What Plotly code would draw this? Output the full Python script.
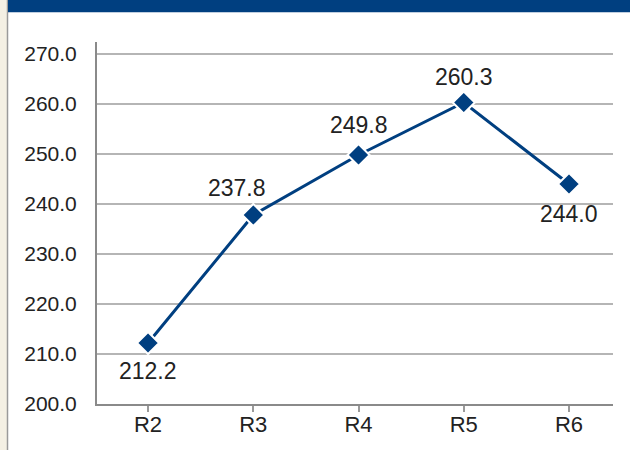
import plotly.graph_objects as go

categories = ["R2", "R3", "R4", "R5", "R6"]
values = [212.2, 237.8, 249.8, 260.3, 244.0]
labels = ["212.2", "237.8", "249.8", "260.3", "244.0"]
y_ticks = [200, 210, 220, 230, 240, 250, 260, 270]
y_tick_labels = ["200.0", "210.0", "220.0", "230.0", "240.0", "250.0", "260.0", "270.0"]

NAVY = "#003f80"
W, H = 630, 450
L, R, T, B = 97, 17, 42, 46
pw, ph = W - L - R, H - T - B

def px(x):
    return (x - L) / pw

def py(y):
    return (H - B - y) / ph

fig = go.Figure()
fig.add_trace(go.Scatter(
    x=categories, y=values, mode="lines+markers",
    line=dict(color=NAVY, width=3),
    marker=dict(symbol="diamond", size=17, color=NAVY, line=dict(color="white", width=2)),
    hoverinfo="skip", showlegend=False,
))

# label placement offsets (style, not data)
xshifts = [0, -16, 0, 0, 0]
yshifts = [-28, 27, 30, 26, -30]
for c, v, t, xs, ys in zip(categories, values, labels, xshifts, yshifts):
    fig.add_annotation(x=c, y=v, text=t, showarrow=False, xshift=xs, yshift=ys,
                       font=dict(family="Liberation Sans, Arial, sans-serif", size=23, color="#222222"))

shapes = [
    dict(type="rect", xref="paper", yref="paper", x0=px(-2), x1=px(7), y0=py(H + 2), y1=py(-2),
         fillcolor="#f4f0e4", line=dict(width=0), layer="below"),
    dict(type="line", xref="paper", yref="paper", x0=px(7.5), x1=px(7.5), y0=py(H + 2), y1=py(-2),
         line=dict(color="#9a9a9a", width=1.5)),
    dict(type="rect", xref="paper", yref="paper", x0=px(8), x1=px(W + 2), y0=py(12.3), y1=py(-2),
         fillcolor=NAVY, line=dict(width=0)),
]

fig.update_layout(
    width=W, height=H,
    margin=dict(l=L, r=R, t=T, b=B, pad=0),
    paper_bgcolor="white", plot_bgcolor="white",
    shapes=shapes,
    xaxis=dict(
        type="category", range=[-0.485, 4.418], automargin=False,
        showline=True, linecolor="#8a8a8a", linewidth=2,
        ticks="outside", ticklen=6, tickcolor="#9a9a9a", tickwidth=1.5,
        showgrid=False, zeroline=False, ticklabelstandoff=-6,
        tickfont=dict(family="Liberation Sans, Arial, sans-serif", size=22, color="#222222"),
    ),
    yaxis=dict(
        range=[200, 272.4], tickvals=y_ticks, ticktext=y_tick_labels, automargin=False,
        showline=True, linecolor="#8a8a8a", linewidth=2,
        showgrid=True, gridcolor="#b5b5b5", gridwidth=1.5,
        ticks="", zeroline=False, ticklabelstandoff=14,
        tickfont=dict(family="Liberation Sans, Arial, sans-serif", size=21, color="#222222"),
    ),
)

post = "document.documentElement.style.margin='0';document.body.style.margin='0';"
fig.write_html("out.html", config={"displayModeBar": False}, post_script=post)
